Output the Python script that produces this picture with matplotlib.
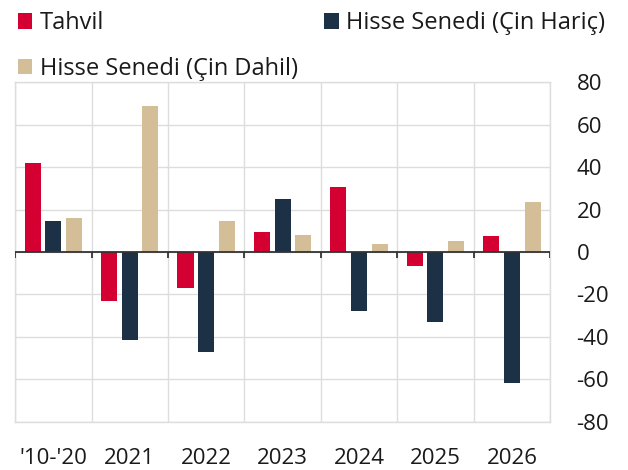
import numpy as np
import matplotlib
matplotlib.use("Agg")
import matplotlib.pyplot as plt

plt.rcParams['font.family'] = ['Open Sans', 'DejaVu Sans']
plt.rcParams['axes.unicode_minus'] = False

# Data
categories = ["'10-'20", "2021", "2022", "2023", "2024", "2025", "2026"]
tahvil = [42, -23, -17, 9.5, 30.5, -6.5, 7.5]
hisse_haric = [14.5, -41.5, -47, 25, -28, -33, -62]
hisse_dahil = [16, 69, 14.5, 8, 3.5, 5, 23.5]

RED = '#D50032'
NAVY = '#1D3146'
TAN = '#D4BE98'
GRID = '#DDDDDD'
TEXT = '#1A1A1A'

fig = plt.figure(figsize=(6.28, 4.70), dpi=100)
ax = fig.add_axes([0.024, 0.103, 0.852, 0.722])

x = np.arange(len(categories))
w = 0.21
step = 0.27
b1 = ax.bar(x - step, tahvil, w, color=RED, zorder=3, label='Tahvil')
b2 = ax.bar(x, hisse_haric, w, color=NAVY, zorder=3, label='Hisse Senedi (Çin Hariç)')
b3 = ax.bar(x + step, hisse_dahil, w, color=TAN, zorder=3, label='Hisse Senedi (Çin Dahil)')

ax.set_xlim(-0.5, len(categories) - 0.5)
ax.set_ylim(-80, 80)
ax.set_yticks(range(-80, 81, 20))
ax.yaxis.tick_right()
ax.tick_params(axis='y', length=0, pad=19, labelsize=16, labelcolor=TEXT)

ax.set_xticks(x)
ax.set_xticklabels(categories)
ax.tick_params(axis='x', length=0, pad=19, labelsize=16, labelcolor=TEXT)
bounds = np.arange(len(categories) + 1) - 0.5
ax.set_xticks(bounds, minor=True)
ax.tick_params(axis='x', which='minor', length=0)

ax.grid(True, axis='y', color=GRID, lw=1, zorder=0)
ax.grid(True, axis='x', which='minor', color=GRID, lw=1, zorder=0)
for s in ax.spines.values():
    s.set_color(GRID)
    s.set_linewidth(1)

# zero line with small ticks at group boundaries
ax.axhline(0, color='#333333', lw=1.3, zorder=4)
ax.vlines(bounds, -2.9, 0, color='#333333', lw=1.3, zorder=4)

handles = [b1, b3, b2]
fig.legend(handles, [h.get_label() for h in handles], ncol=2,
           loc='upper left', bbox_to_anchor=(0.028, 0.976), frameon=False,
           fontsize=17, handlelength=0.63, handleheight=0.63, handletextpad=0.3,
           labelspacing=0.92, columnspacing=1.12, labelcolor=TEXT,
           borderpad=0, borderaxespad=0)

fig.savefig('out.png', dpi=100)
